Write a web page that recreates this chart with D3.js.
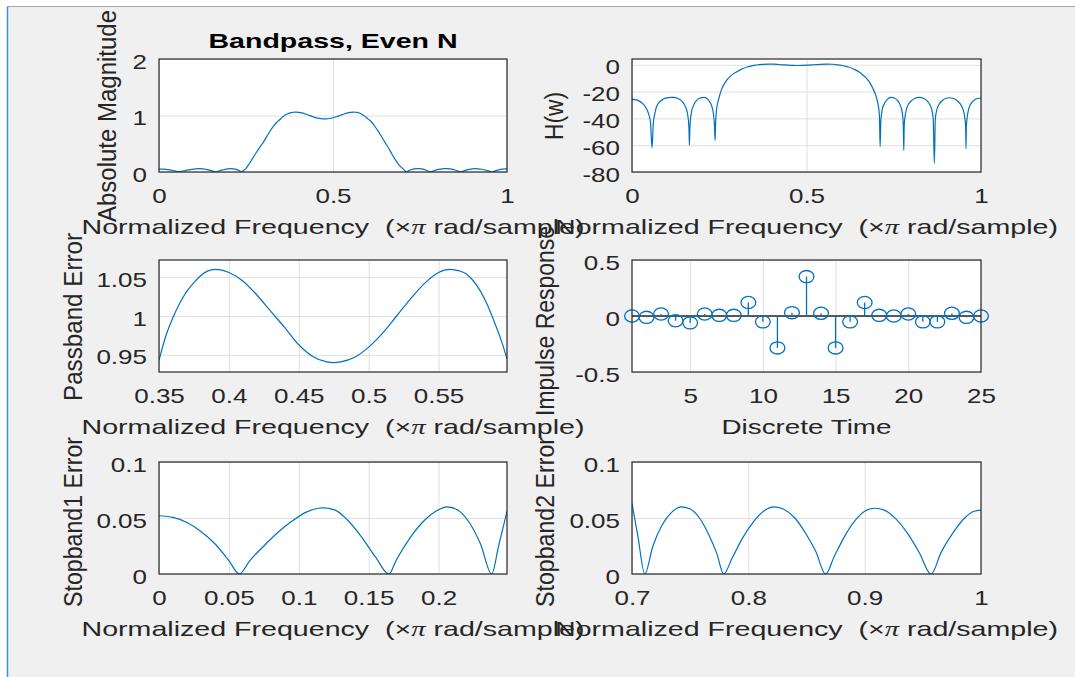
<!DOCTYPE html>
<html>
<head>
<meta charset="utf-8">
<script src="https://d3js.org/d3.v7.min.js"></script>
<style>
  body { margin: 0; background: #fff; }
  svg text { font-family: "Liberation Sans", Arial, sans-serif; fill: #262626; }
</style>
</head>
<body>
<svg id="drawing_region"></svg>
<script>
// ---- data ----
// stopband 1 error |H| (0 .. 0.25)
const stop1Freq = [0, 0.01, 0.02, 0.03, 0.04, 0.05, 0.0575, 0.065, 0.075, 0.085, 0.095, 0.105, 0.117, 0.126, 0.135, 0.145, 0.155, 0.1645, 0.17, 0.18, 0.19, 0.198, 0.206, 0.214, 0.222, 0.23, 0.238, 0.243, 0.249];
const stop1Err  = [0.052, 0.0505, 0.046, 0.038, 0.027, 0.012, 0, 0.012, 0.025, 0.037, 0.047, 0.055, 0.059, 0.057, 0.048, 0.033, 0.015, 0, 0.013, 0.033, 0.048, 0.056, 0.060, 0.057, 0.046, 0.027, 0, 0.025, 0.056];

// passband |H| (0.35 .. 0.6)
const passFreq = [0.35, 0.355, 0.36, 0.365, 0.37, 0.375, 0.38, 0.385, 0.39, 0.395, 0.40, 0.41, 0.42, 0.43, 0.44, 0.45, 0.46, 0.47, 0.475, 0.48, 0.49, 0.50, 0.51, 0.52, 0.53, 0.54, 0.55, 0.558, 0.565, 0.57, 0.575, 0.58, 0.585, 0.59, 0.595, 0.599];
const passMag  = [0.943, 0.975, 0.998, 1.017, 1.032, 1.043, 1.052, 1.058, 1.060, 1.059, 1.056, 1.045, 1.027, 1.006, 0.985, 0.963, 0.948, 0.941, 0.940, 0.941, 0.947, 0.960, 0.978, 1.000, 1.022, 1.042, 1.056, 1.060, 1.058, 1.054, 1.045, 1.032, 1.014, 0.992, 0.968, 0.945];

// stopband 2 error |H| (0.7 .. 1)
const stop2Freq = [0.7, 0.705, 0.711, 0.718, 0.726, 0.734, 0.742, 0.75, 0.758, 0.766, 0.773, 0.7788, 0.786, 0.795, 0.804, 0.813, 0.8216, 0.83, 0.84, 0.85, 0.858, 0.8664, 0.874, 0.883, 0.892, 0.9, 0.9086, 0.917, 0.927, 0.937, 0.947, 0.957, 0.966, 0.976, 0.986, 0.994, 1.0];
const stop2Err  = [0.063, 0.034, 0, 0.025, 0.044, 0.055, 0.060, 0.058, 0.050, 0.035, 0.018, 0, 0.014, 0.032, 0.046, 0.056, 0.060, 0.058, 0.050, 0.035, 0.020, 0, 0.016, 0.034, 0.048, 0.056, 0.0587, 0.057, 0.049, 0.036, 0.019, 0, 0.020, 0.037, 0.050, 0.056, 0.057];

// transition bands |H|
const trans1Freq = [0.26, 0.27, 0.28, 0.29, 0.30, 0.31, 0.32, 0.33, 0.34];
const trans1Mag  = [0.15, 0.25, 0.35, 0.44, 0.53, 0.63, 0.73, 0.82, 0.89];
const trans2Freq = [0.61, 0.62, 0.63, 0.64, 0.65, 0.66, 0.67, 0.68, 0.69];
const trans2Mag  = [0.89, 0.81, 0.72, 0.62, 0.52, 0.42, 0.31, 0.21, 0.12];

// H(w) in dB
const dbFreq = [0, 0.015, 0.03, 0.04, 0.048, 0.053, 0.0575, 0.061, 0.065, 0.07, 0.08, 0.09, 0.1, 0.11, 0.12, 0.13, 0.14, 0.148, 0.155, 0.16, 0.163, 0.1645, 0.166, 0.17, 0.176, 0.184, 0.193, 0.206, 0.215, 0.222, 0.228, 0.233, 0.2365, 0.238, 0.2395, 0.242, 0.246, 0.25, 0.255, 0.26, 0.27, 0.28, 0.29, 0.30, 0.31, 0.32, 0.33, 0.34, 0.35, 0.36, 0.375, 0.39, 0.405, 0.42, 0.44, 0.46, 0.475, 0.49, 0.505, 0.52, 0.54, 0.558, 0.575, 0.59, 0.6, 0.61, 0.62, 0.63, 0.64, 0.65, 0.66, 0.67, 0.68, 0.69, 0.7, 0.705, 0.709, 0.711, 0.713, 0.717, 0.723, 0.731, 0.742, 0.753, 0.762, 0.769, 0.774, 0.777, 0.7788, 0.780, 0.784, 0.79, 0.80, 0.81, 0.822, 0.835, 0.845, 0.853, 0.859, 0.863, 0.8664, 0.869, 0.873, 0.88, 0.89, 0.9, 0.909, 0.92, 0.93, 0.94, 0.948, 0.953, 0.956, 0.957, 0.958, 0.961, 0.966, 0.974, 0.984, 0.993, 1.0];
const dbGain = [-25.6, -26.4, -28.8, -32, -37, -43, -62, -44, -37, -31.5, -27.5, -25.6, -24.7, -24.4, -24.4, -25.0, -26.5, -28.8, -32.5, -38, -46, -60, -46, -36, -30.5, -27, -25, -24.4, -25.2, -27.3, -30.5, -36, -46, -56.5, -44, -34, -28, -24, -19.5, -16.5, -12, -9, -6.8, -5.3, -3.8, -2.6, -1.7, -1.0, -0.5, 0, 0.35, 0.5, 0.42, 0.2, -0.15, -0.47, -0.54, -0.47, -0.25, 0, 0.36, 0.5, 0.39, -0.07, -0.5, -1.0, -1.7, -2.6, -3.8, -5.3, -7.2, -9.6, -12.8, -17.5, -24, -29.5, -38, -61, -42, -33.5, -29, -26, -24.4, -25.0, -27, -30.5, -35, -43, -64, -45, -36, -30.5, -27, -25.2, -24.4, -25.0, -26.8, -29.5, -33.5, -40, -73.5, -41, -34, -29.5, -26.5, -25, -24.6, -25, -26.5, -29, -33, -38.5, -46, -62.5, -46, -38, -32, -28, -25.8, -25, -24.8];

// impulse response h(n), n = 1..25
const impulseN = d3.range(1, 26);
const impulseH = [0, -0.012, 0.018, -0.042, -0.061, 0.018, 0.006, 0.006, 0.121, -0.052, -0.285, 0.030, 0.352, 0.024, -0.285, -0.052, 0.121, 0.006, 0, 0.018, -0.052, -0.052, 0.024, -0.012, 0];

// tick labels
const magXTicks = [0, 0.5, 1];
const magYTicks = [0, 1, 2];
const dbYTicks = [-80, -60, -40, -20, 0];
const passXTicks = [0.35, 0.4, 0.45, 0.5, 0.55];
const passYTicks = [0.95, 1, 1.05];
const impXTicks = [5, 10, 15, 20, 25];
const impYTicks = [-0.5, 0, 0.5];
const stop1XTicks = [0, 0.05, 0.1, 0.15, 0.2];
const stop2XTicks = [0.7, 0.8, 0.9, 1];
const errYTicks = [0, 0.05, 0.1];

const zip = (xs, ys) => xs.map((x, i) => ({ x: x, y: ys[i] }));

// whole |H| curve = stopband1 + transition + passband + transition + stopband2
const magnitude = [].concat(
    zip(stop1Freq, stop1Err), zip(trans1Freq, trans1Mag), zip(passFreq, passMag),
    zip(trans2Freq, trans2Mag), zip(stop2Freq, stop2Err));

const BLUE = '#0072bd';
const XLABEL = 'Normalized Frequency';
const fmt = d => String(+d.toFixed(4));
const SX = 1.3;      // horizontal stretch of the text in the screenshot

const svg = d3.select('#drawing_region')
    .attr('width', 1075)
    .attr('height', 677);

// figure window
svg.append('rect').attr('width', 1075).attr('height', 677).attr('fill', '#fff');
svg.append('rect').attr('x', 8).attr('y', 7).attr('width', 1067).attr('height', 670).attr('fill', '#f0f0f0');
svg.append('line').attr('x1', 7).attr('x2', 1075).attr('y1', 6.5).attr('y2', 6.5).attr('stroke', '#a5a5a5');
svg.append('line').attr('x1', 7.5).attr('x2', 7.5).attr('y1', 7).attr('y2', 677).attr('stroke', '#3c8fe0').attr('stroke-width', 1.5);

let clipCount = 0;

class Subplot {
    constructor(config) {
        this.config = config;
        this.init();
    }

    init() {
        let self = this;
        const c = self.config;
        self.xscale = d3.scaleLinear().domain(c.xdomain).range([c.left, c.left + c.width]);
        self.yscale = d3.scaleLinear().domain(c.ydomain).range([c.top + c.height, c.top]);

        self.chart = svg.append('g');
        self.chart.append('rect')
            .attr('x', c.left).attr('y', c.top)
            .attr('width', c.width).attr('height', c.height)
            .attr('fill', '#fff');

        // grid
        self.chart.append('g')
            .attr('transform', `translate(0,${c.top + c.height})`)
            .call(d3.axisBottom(self.xscale).tickValues(c.xticks).tickSize(-c.height).tickFormat(''))
            .call(g => g.select('.domain').remove())
            .selectAll('line').attr('stroke', '#e0e0e0');
        self.chart.append('g')
            .attr('transform', `translate(${c.left},0)`)
            .call(d3.axisLeft(self.yscale).tickValues(c.yticks).tickSize(-c.width).tickFormat(''))
            .call(g => g.select('.domain').remove())
            .selectAll('line').attr('stroke', '#e0e0e0');

        const id = 'clip' + (clipCount++);
        self.chart.append('clipPath').attr('id', id)
            .append('rect')
            .attr('x', c.left).attr('y', c.top)
            .attr('width', c.width).attr('height', c.height);
        self.plot = self.chart.append('g').attr('clip-path', `url(#${id})`);
    }

    line(data) {
        let self = this;
        const path = d3.line()
            .x(d => self.xscale(d.x))
            .y(d => self.yscale(d.y))
            .curve(d3.curveMonotoneX);
        self.plot.append('path')
            .attr('d', path(data))
            .attr('fill', 'none')
            .attr('stroke', BLUE)
            .attr('stroke-width', 1.2);
    }

    stem(data) {
        let self = this;
        // baseline
        self.plot.append('line')
            .attr('x1', self.config.left).attr('x2', self.config.left + self.config.width)
            .attr('y1', self.yscale(0)).attr('y2', self.yscale(0))
            .attr('stroke', '#262626').attr('stroke-width', 1.3);
        self.chart.selectAll('.stem')
            .data(data).enter()
            .append('line')
            .attr('x1', d => self.xscale(d.x)).attr('x2', d => self.xscale(d.x))
            .attr('y1', self.yscale(0)).attr('y2', d => self.yscale(d.y))
            .attr('stroke', BLUE).attr('stroke-width', 1.3);
        self.chart.selectAll('.marker')
            .data(data).enter()
            .append('ellipse')
            .attr('cx', d => self.xscale(d.x))
            .attr('cy', d => self.yscale(d.y))
            .attr('rx', 7.4).attr('ry', 6.1)
            .attr('fill', 'none')
            .attr('stroke', BLUE).attr('stroke-width', 1.3);
    }

    finish() {
        let self = this;
        const c = self.config;

        self.chart.append('rect')
            .attr('x', c.left).attr('y', c.top)
            .attr('width', c.width).attr('height', c.height)
            .attr('fill', 'none')
            .attr('stroke', '#262626')
            .attr('stroke-width', 1.2);

        // tick labels
        self.chart.append('g')
            .attr('transform', `translate(0,${c.top + c.height})`)
            .call(d3.axisBottom(self.xscale).tickValues(c.xticks).tickSize(0).tickFormat(fmt))
            .call(g => g.select('.domain').remove())
            .selectAll('text')
            .attr('y', 31).attr('dy', null)
            .attr('font-size', 20)
            .attr('fill', '#262626')
            .attr('transform', `scale(${SX},1)`);
        self.chart.append('g')
            .attr('transform', `translate(${c.left},0)`)
            .call(d3.axisLeft(self.yscale).tickValues(c.yticks).tickSize(0).tickFormat(fmt))
            .call(g => g.select('.domain').remove())
            .selectAll('text')
            .attr('x', -12 / SX).attr('dy', 9)
            .attr('font-size', 20)
            .attr('fill', '#262626')
            .attr('transform', `scale(${SX},1)`);

        // x label, stretched to the width it has in the picture
        const xl = self.chart.append('text')
            .attr('x', c.left + c.width / 2)
            .attr('y', c.top + c.height + 62)
            .attr('text-anchor', 'middle')
            .attr('font-size', 21)
            .attr('lengthAdjust', 'spacingAndGlyphs')
            .style('white-space', 'pre');
        if (c.xlabel === 'freq') {
            xl.attr('textLength', 503);
            xl.append('tspan').text(XLABEL + '  (×');
            xl.append('tspan').attr('font-family', '"Liberation Serif", serif').attr('font-style', 'italic').text('π');
            xl.append('tspan').text(' rad/sample)');
        } else {
            xl.attr('textLength', c.xlabelLength).text(c.xlabel);
        }

        // y label
        self.chart.append('text')
            .attr('transform', `translate(${c.ylabelX},${c.ylabelY}) rotate(-90) scale(1,1.24)`)
            .attr('text-anchor', 'middle')
            .attr('font-size', 21)
            .attr('textLength', c.ylabelLength)
            .attr('lengthAdjust', 'spacingAndGlyphs')
            .text(c.ylabel);

        if (c.title) {
            svg.append('text')
                .attr('x', c.left + c.width / 2)
                .attr('y', 48)
                .attr('text-anchor', 'middle')
                .attr('font-size', 21)
                .attr('font-weight', 'bold')
                .attr('textLength', 249)
                .attr('lengthAdjust', 'spacingAndGlyphs')
                .style('fill', '#000')
                .text(c.title);
        }
    }
}

const cols = [159, 632];
const widths = [348, 349];
const rows = [59, 260, 462];
const heights = [113, 112, 112];

// 1: absolute magnitude
let p1 = new Subplot({ left: cols[0], top: rows[0], width: widths[0], height: heights[0],
    xdomain: [0, 1], ydomain: [0, 2], xticks: magXTicks, yticks: magYTicks,
    xlabel: 'freq', ylabel: 'Absolute Magnitude', ylabelX: 116, ylabelY: 116, ylabelLength: 212,
    title: 'Bandpass, Even N' });
p1.line(magnitude);
p1.finish();

// 2: H(w) dB
let p2 = new Subplot({ left: cols[1], top: rows[0], width: widths[1], height: heights[0],
    xdomain: [0, 1], ydomain: [-80, 4.3], xticks: magXTicks, yticks: dbYTicks,
    xlabel: 'freq', ylabel: 'H(w)', ylabelX: 563, ylabelY: 116, ylabelLength: 48 });
p2.line(zip(dbFreq, dbGain));
p2.finish();

// 3: passband error
let p3 = new Subplot({ left: cols[0], top: rows[1], width: widths[0], height: heights[1],
    xdomain: [0.35, 0.599], ydomain: [0.928, 1.072], xticks: passXTicks, yticks: passYTicks,
    xlabel: 'freq', ylabel: 'Passband Error', ylabelX: 82, ylabelY: 317, ylabelLength: 168 });
p3.line(zip(passFreq, passMag));
p3.finish();

// 4: impulse response
let p4 = new Subplot({ left: cols[1], top: rows[1], width: widths[1], height: heights[1],
    xdomain: [1, 25], ydomain: [-0.5, 0.5], xticks: impXTicks, yticks: impYTicks,
    xlabel: 'Discrete Time', xlabelLength: 170,
    ylabel: 'Impulse Response', ylabelX: 554, ylabelY: 321, ylabelLength: 190 });
p4.stem(zip(impulseN, impulseH));
p4.finish();

// 5: stopband 1 error
let p5 = new Subplot({ left: cols[0], top: rows[2], width: widths[0], height: heights[2],
    xdomain: [0, 0.249], ydomain: [0, 0.1], xticks: stop1XTicks, yticks: errYTicks,
    xlabel: 'freq', ylabel: 'Stopband1 Error', ylabelX: 82, ylabelY: 522, ylabelLength: 170 });
p5.line(zip(stop1Freq, stop1Err));
p5.finish();

// 6: stopband 2 error
let p6 = new Subplot({ left: cols[1], top: rows[2], width: widths[1], height: heights[2],
    xdomain: [0.7, 1], ydomain: [0, 0.1], xticks: stop2XTicks, yticks: errYTicks,
    xlabel: 'freq', ylabel: 'Stopband2 Error', ylabelX: 554, ylabelY: 522, ylabelLength: 170 });
p6.line(zip(stop2Freq, stop2Err));
p6.finish();
</script>
</body>
</html>
